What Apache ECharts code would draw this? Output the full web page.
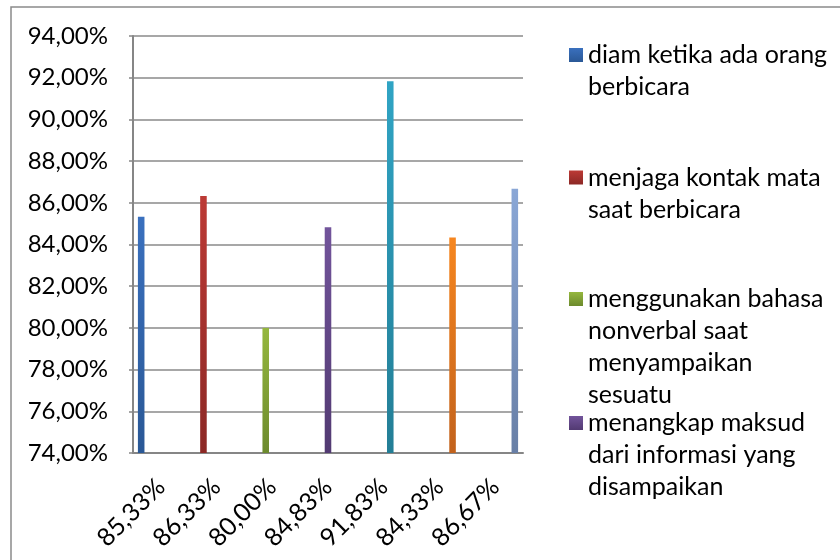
<!DOCTYPE html>
<html>
<head>
<meta charset="utf-8">
<script src="https://cdn.jsdelivr.net/npm/echarts@6/dist/echarts.min.js"></script>
<style>html,body{margin:0;padding:0;background:#fff}#c{width:840px;height:560px}</style>
</head>
<body>
<div id="c"></div>
<script>
// ---- data ----
var categories = ['85,33%', '86,33%', '80,00%', '84,83%', '91,83%', '84,33%', '86,67%'];
var values = [85.33, 86.33, 80.00, 84.83, 91.83, 84.33, 86.67];
var seriesNames = [
  'diam ketika ada orang\nberbicara',
  'menjaga kontak mata\nsaat berbicara',
  'menggunakan bahasa\nnonverbal saat\nmenyampaikan\nsesuatu',
  'menangkap maksud\ndari informasi yang\ndisampaikan',
  '', '', ''
];
var yTicksMin = 74, yTicksMax = 94, yTickStep = 2;

// ---- style ----
var topColors = ['#3A70BE', '#BC3A35', '#95B73E', '#72549B', '#30A4C4', '#F6861F', '#8AA7D6'];
var botColors = ['#2A5896', '#8C2825', '#6C8A2D', '#523A72', '#237E96', '#C2621C', '#687FA6'];
var FONT = 'Lato';
var LH = 32;

var series = categories.map(function (c, i) {
  return {
    type: 'bar',
    name: seriesNames[i] || ('s' + i),
    data: categories.map(function (_, j) { return j === i ? values[i] : null; }),
    barGap: '0%',
    barCategoryGap: '17.6%',
    itemStyle: {
      color: new echarts.graphic.LinearGradient(0, 0, 0, 1, [
        { offset: 0, color: topColors[i] },
        { offset: 1, color: botColors[i] }
      ])
    },
    silent: true
  };
});

// icon centre y of each legend entry
var legendIconY = [55, 177.5, 299, 423];
var legends = [0, 1, 2, 3].map(function (i) {
  var n = seriesNames[i].split('\n').length;
  return {
    data: [{ name: seriesNames[i], icon: 'rect' }],
    left: 569,
    top: legendIconY[i] - (2 * n - 1) * LH / 2,
    orient: 'vertical',
    padding: 0,
    itemWidth: 14,
    itemHeight: 14,
    selectedMode: false,
    formatter: function (name) {
      // blank lines above keep the marker level with the first text line
      return new Array(n).join('\n') + name;
    },
    textStyle: {
      fontFamily: FONT,
      fontSize: 25,
      color: '#000',
      lineHeight: LH
    }
  };
});

var chart = echarts.init(document.getElementById('c'), null, { renderer: 'canvas' });
chart.setOption({
  animation: false,
  backgroundColor: '#fff',
  graphic: [{
    type: 'rect',
    shape: { x: 11, y: 7, width: 900, height: 700 },
    style: { fill: 'none', stroke: '#8a8a8a', lineWidth: 1.5 },
    silent: true
  }],
  grid: { left: 133, top: 36, right: 317, bottom: 107, containLabel: false, outerBoundsMode: 'none' },
  legend: legends,
  xAxis: {
    type: 'category',
    data: categories,
    axisLine: { lineStyle: { color: '#868686', width: 2 } },
    axisTick: { show: false },
    axisLabel: {
      rotate: 45,
      interval: 0,
      margin: 30,
      fontFamily: FONT,
      fontSize: 25,
      color: '#000'
    }
  },
  yAxis: {
    type: 'value',
    min: yTicksMin,
    max: yTicksMax,
    interval: yTickStep,
    axisLine: { show: true, lineStyle: { color: '#868686', width: 2 } },
    axisTick: { show: true, length: 4, lineStyle: { color: '#868686', width: 1.5 } },
    splitLine: { show: true, lineStyle: { color: '#8a8a8a', width: 1.5 } },
    axisLabel: {
      margin: 25,
      fontFamily: FONT,
      fontSize: 24,
      color: '#000',
      formatter: function (v) { return v.toFixed(2).replace('.', ',') + '%'; }
    }
  },
  series: series
});
</script>
</body>
</html>
